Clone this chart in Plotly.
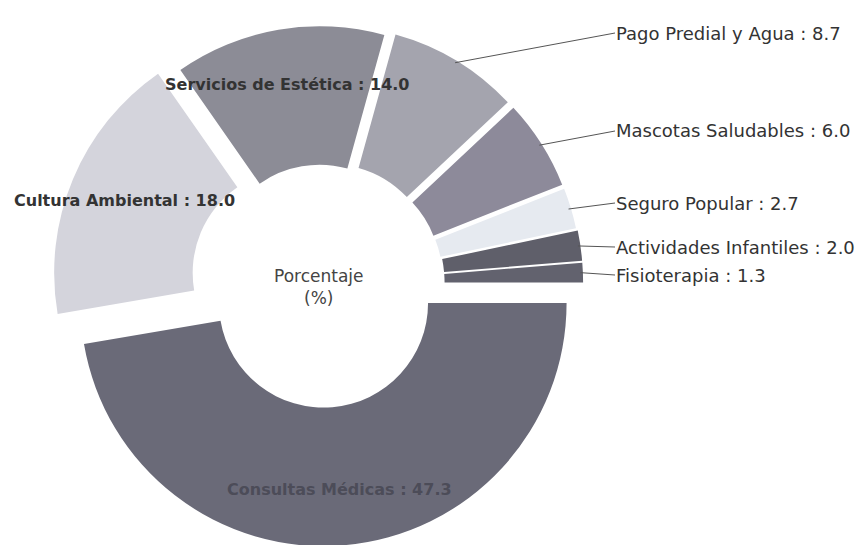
import math
import plotly.graph_objects as go

# ---- data ----
categories = ["Fisioterapia", "Actividades Infantiles", "Seguro Popular",
              "Mascotas Saludables", "Pago Predial y Agua", "Servicios de Estética",
              "Cultura Ambiental", "Consultas Médicas"]
values = [1.3, 2.0, 2.7, 6.0, 8.7, 14.0, 18.0, 47.3]
colors = ["#62626e", "#5f5f6a", "#e6eaf0", "#8d8a9a", "#a4a4ae", "#8c8c96",
          "#d4d4dc", "#6a6a78"]
pulls = [0.075, 0.075, 0.07, 0.07, 0.07, 0.058, 0.11, 0.082]
inside_labels = ["Servicios de Estética", "Cultura Ambiental", "Consultas Médicas"]
outside_label_y = {"Fisioterapia": 267, "Actividades Infantiles": 239,
                   "Seguro Popular": 195, "Mascotas Saludables": 123,
                   "Pago Predial y Agua": 25}

W, H = 867, 545
dom_x = [0.0, 0.724]
dom_y = [0.0, 0.99]
hole = 0.43
FONT = "DejaVu Sans, Verdana, sans-serif"

total = sum(values)
# first slice (counterclockwise) should begin exactly at 3 o'clock
rotation = 90 - values[0] / total * 360

fig = go.Figure(go.Pie(
    labels=categories, values=values, sort=False, direction="counterclockwise",
    rotation=rotation, hole=hole, pull=pulls, textinfo="none",
    hoverinfo="label+value",
    marker=dict(colors=colors, line=dict(width=0)),
    domain=dict(x=dom_x, y=dom_y),
))

# geometry as plotly computes it
box_w = W * (dom_x[1] - dom_x[0])
box_h = H * (dom_y[1] - dom_y[0])
R = min(box_w, box_h) / (2 + 2 * max(pulls))
cx = W * (dom_x[0] + dom_x[1]) / 2
cy = H * (1 - dom_y[0]) - box_h / 2

cum = 0.0
annotations = []
for name, v, p in zip(categories, values, pulls):
    mid = math.radians((cum + v / 2) / total * 360)
    cum += v
    pcx = cx + p * R * math.cos(mid)
    pcy = cy - p * R * math.sin(mid)
    text = f"{name} : {v:.1f}"
    if name in inside_labels:
        r = 0.77 * R
        tx = pcx + r * math.cos(mid)
        ty = pcy - r * math.sin(mid)
        col = "#4c4c58" if name == "Consultas Médicas" else "#333333"
        annotations.append(dict(
            x=tx / W, y=1 - ty / H, xref="paper", yref="paper", text=text,
            showarrow=False, font=dict(family=FONT, size=16, color=col,
                                        weight="bold"),
            xanchor="center", yanchor="middle"))
    else:
        r = 0.99 * R
        hx = pcx + r * math.cos(mid)
        hy = pcy - r * math.sin(mid)
        ly = outside_label_y[name]
        annotations.append(dict(
            x=hx / W, y=1 - hy / H, xref="paper", yref="paper", text=text,
            showarrow=True, arrowhead=0, arrowwidth=1, arrowcolor="#555555",
            ax=607 - hx, ay=ly - hy, axref="pixel", ayref="pixel",
            xanchor="left", yanchor="middle", borderpad=0,
            font=dict(family=FONT, size=18, color="#333333")))

annotations.append(dict(
    x=(cx - 3) / W, y=1 - (cy + 4) / H, xref="paper", yref="paper",
    text="Porcentaje<br>(%)", showarrow=False,
    font=dict(family=FONT, size=17, color="#444444"),
    xanchor="center", yanchor="middle"))

fig.update_layout(
    width=W, height=H, margin=dict(l=0, r=0, t=0, b=0),
    paper_bgcolor="white", plot_bgcolor="white", showlegend=False,
    annotations=annotations,
)

fig.write_html("out.html")
